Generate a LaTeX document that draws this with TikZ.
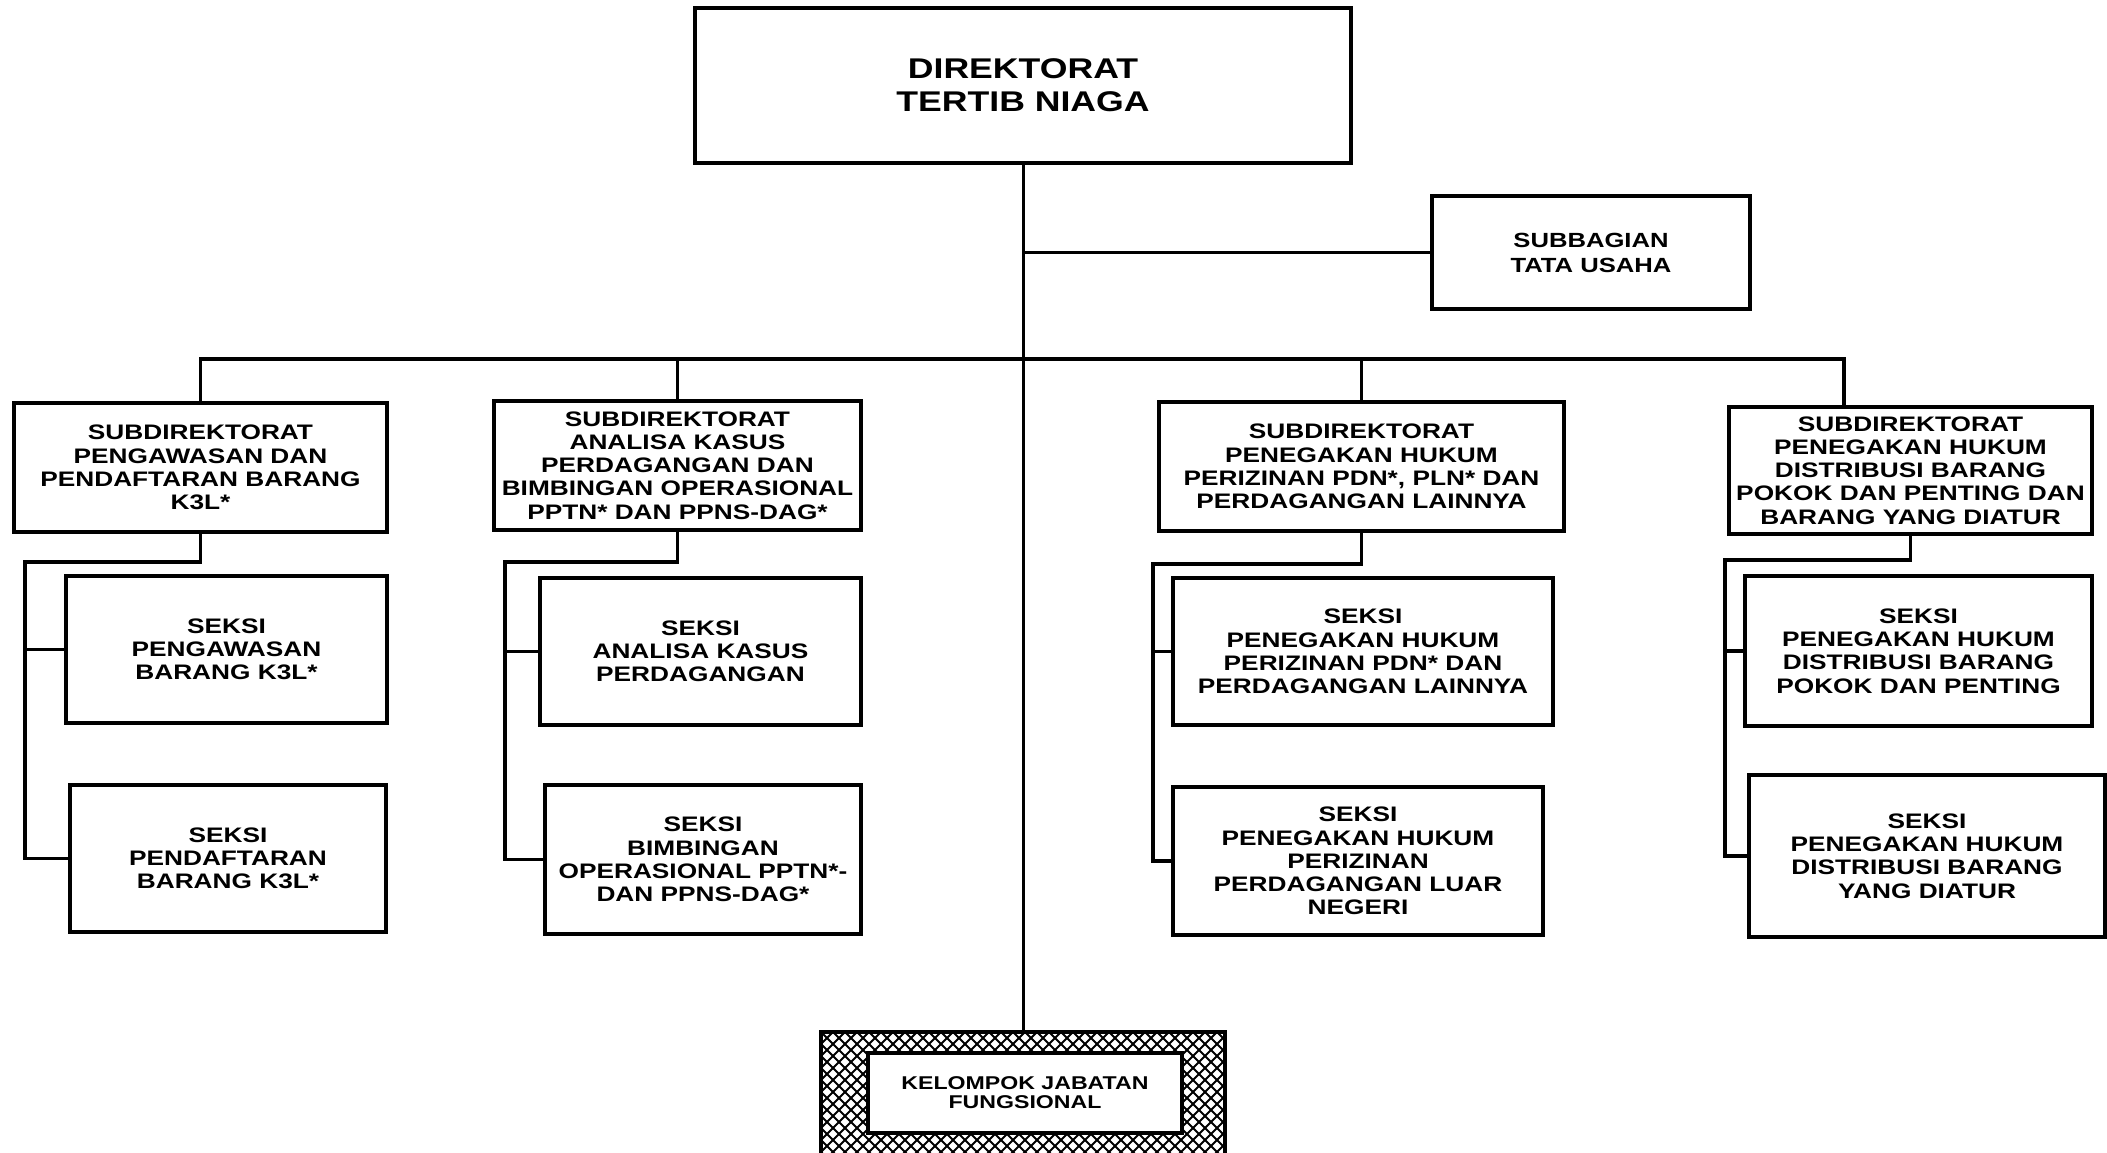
\documentclass[tikz,border=0pt]{standalone}
\usepackage{fontspec}
\newfontfamily\orgfont[FakeStretch=1.25]{Liberation Sans}
\begin{document}
\begin{tikzpicture}[x=1pt,y=-1pt,
  box/.style={draw, line width=4pt, inner sep=0pt, align=center, fill=white,
    font={\orgfont\bfseries\fontsize{21}{23.2}\selectfont}},
  bigbox/.style={box, font={\orgfont\bfseries\fontsize{28.5}{33}\selectfont}},
  subbox/.style={box, font={\orgfont\bfseries\fontsize{20.5}{25}\selectfont}},
  kelbox/.style={box, font={\orgfont\bfseries\fontsize{18.5}{19}\selectfont}},
  conn/.style={line width=3.5pt, line cap=rect},
  spine/.style={line width=3pt},
  hatch/.style={line width=2pt}
]
\useasboundingbox (0,0) rectangle (2107,1153);
\clip (0,0) rectangle (2107,1153);

% top
\node[bigbox, minimum width=656pt, minimum height=155pt] (dir) at (1023,85.5) {DIREKTORAT\\TERTIB NIAGA};
\node[subbox, minimum width=318pt, minimum height=113pt] (sub) at (1591,252.5) {SUBBAGIAN\\TATA USAHA};

% subdirektorat
\node[box, minimum width=373pt, minimum height=129pt] (A) at (200.5,467.5) {SUBDIREKTORAT\\PENGAWASAN DAN\\PENDAFTARAN BARANG\\K3L*};
\node[box, minimum width=367pt, minimum height=129pt] (B) at (677.5,465.5) {SUBDIREKTORAT\\ANALISA KASUS\\PERDAGANGAN DAN\\BIMBINGAN OPERASIONAL\\PPTN* DAN PPNS-DAG*};
\node[box, minimum width=405pt, minimum height=129pt] (C) at (1361.5,466.5) {SUBDIREKTORAT\\PENEGAKAN HUKUM\\PERIZINAN PDN*, PLN* DAN\\PERDAGANGAN LAINNYA};
\node[box, minimum width=363pt, minimum height=127pt] (D) at (1910.5,470.5) {SUBDIREKTORAT\\PENEGAKAN HUKUM\\DISTRIBUSI BARANG\\POKOK DAN PENTING DAN\\BARANG YANG DIATUR};

% seksi
\node[box, minimum width=321pt, minimum height=147pt] (A1) at (226.5,649.5) {SEKSI\\PENGAWASAN\\BARANG K3L*};
\node[box, minimum width=316pt, minimum height=147pt] (A2) at (228,858.5) {SEKSI\\PENDAFTARAN\\BARANG K3L*};
\node[box, minimum width=321pt, minimum height=147pt] (B1) at (700.5,651.5) {SEKSI\\ANALISA KASUS\\PERDAGANGAN};
\node[box, minimum width=316pt, minimum height=149pt] (B2) at (703,859.5) {SEKSI\\BIMBINGAN\\OPERASIONAL PPTN*-\\DAN PPNS-DAG*};
\node[box, minimum width=380pt, minimum height=147pt] (C1) at (1363,651.5) {SEKSI\\PENEGAKAN HUKUM\\PERIZINAN PDN* DAN\\PERDAGANGAN LAINNYA};
\node[box, minimum width=370pt, minimum height=148pt] (C2) at (1358,861) {SEKSI\\PENEGAKAN HUKUM\\PERIZINAN\\PERDAGANGAN LUAR\\NEGERI};
\node[box, minimum width=347pt, minimum height=150pt] (D1) at (1918.5,651) {SEKSI\\PENEGAKAN HUKUM\\DISTRIBUSI BARANG\\POKOK DAN PENTING};
\node[box, minimum width=356pt, minimum height=162pt] (D2) at (1927,856) {SEKSI\\PENEGAKAN HUKUM\\DISTRIBUSI BARANG\\YANG DIATUR};

% kelompok jabatan fungsional (hatched frame)
\begin{scope}
  \clip (821,1032) rectangle (1225,1170);
  \foreach \i in {-156,-144,...,564} {
    \draw[hatch] (821+\i,1032) -- ++(160,160);
    \draw[hatch] (821+\i,1032) -- ++(-160,160);
  }
\end{scope}
\node[draw, line width=4.5pt, minimum width=404pt, minimum height=136pt, inner sep=0pt] (kel) at (1023,1100) {};
\node[kelbox, minimum width=314pt, minimum height=80pt] (kelin) at (1025,1093) {KELOMPOK JABATAN\\FUNGSIONAL};

% coordinates
\coordinate (bus) at (1023,359);
\coordinate (dropD) at (1844,359);
\coordinate (railA) at (25,562);
\coordinate (railB) at (505,562);
\coordinate (railC) at (1153,564);
\coordinate (railD) at (1725,560);

% connectors
\draw[spine] (dir.south) -- (kel.north);
\draw[spine] (dir.south |- sub.west) -- (sub.west);
\draw[conn] (A.north) |- (dropD) -- (D.north -| dropD);
\draw[conn] (B.north) -- (B.north |- bus);
\draw[conn] (C.north) -- (C.north |- bus);

\draw[conn] (A.south) |- (railA) |- (A2.west);
\draw[conn] (railA |- A1.west) -- (A1.west);
\draw[conn] (B.south) |- (railB) |- (B2.west);
\draw[conn] (railB |- B1.west) -- (B1.west);
\draw[conn] (C.south) |- (railC) |- (C2.west);
\draw[conn] (railC |- C1.west) -- (C1.west);
\draw[conn] (D.south) |- (railD) |- (D2.west);
\draw[conn] (railD |- D1.west) -- (D1.west);
\end{tikzpicture}
\end{document}
